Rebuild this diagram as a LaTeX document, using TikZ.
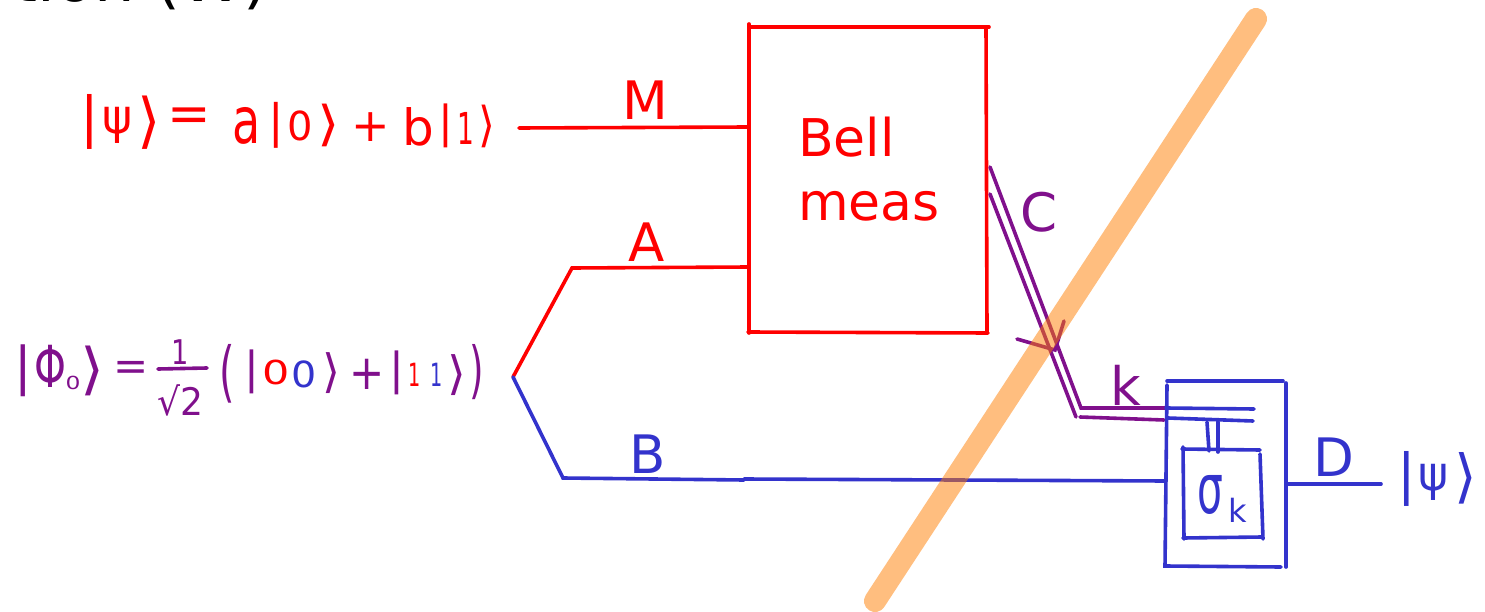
\documentclass[tikz,border=0pt]{standalone}
\usepackage{fontspec}
\setmainfont{DejaVu Sans}
\definecolor{rd}{RGB}{255,0,0}
\definecolor{bl}{RGB}{51,51,204}
\definecolor{pu}{RGB}{128,16,140}
\definecolor{org}{RGB}{255,125,0}
\newcommand\gl[4]{{\fontsize{#1}{#1}\selectfont\scalebox{#2}[#3]{#4}}}
\tikzset{
  wire/.style={line width=3.6pt,line cap=round},
  band/.style={line width=22pt,line cap=round,org,opacity=.5},
  lab/.style={inner sep=0pt,font=\fontsize{53}{53}\selectfont},
  hand/.style={inner sep=0pt}
}
\begin{document}
\begin{tikzpicture}[x=1pt,y=-1pt]
\useasboundingbox (0,0) rectangle (1485,612);
\clip (0,0) rectangle (1485,612);
% top cropped title
\node[inner sep=0pt,anchor=base west,text=black,font=\fontsize{64}{64}\selectfont] (title) at (12,2) {tion (W)};
% red formula
\node[hand,text=rd] (f1) at (90,122) {\gl{55}{1}{1}{|}};
\node[hand,text=rd] (f2) at (118,125) {\gl{48}{.95}{1}{ψ}};
\node[hand,text=rd] (f3) at (149,123) {\gl{60}{1}{1}{⟩}};
\node[hand,text=rd] (f4) at (189,120) {\gl{52}{1}{1}{=}};
\node[hand,text=rd] (f5) at (247,126) {\gl{46}{1}{1.4}{a}};
\node[hand,text=rd] (f6) at (276,125) {\gl{46}{1}{1}{|}};
\node[hand,text=rd] (f7) at (300,126) {\gl{40}{1}{1}{0}};
\node[hand,text=rd] (f8) at (329,125) {\gl{48}{1.2}{1}{⟩}};
\node[hand,text=rd] (f9) at (371,127) {\gl{46}{1}{1}{+}};
\node[hand,text=rd] (f10) at (418,127) {\gl{50}{1}{1}{b}};
\node[hand,text=rd] (f11) at (446,126) {\gl{44}{1}{1}{|}};
\node[hand,text=rd] (f12) at (466,128) {\gl{44}{.6}{1}{1}};
\node[hand,text=rd] (f13) at (487,126) {\gl{48}{.9}{1}{⟩}};
% purple formula
\node[hand,text=pu] (g1) at (23,371) {\gl{52}{1}{1}{|}};
\node[hand,text=pu] (g2) at (50,366) {\gl{58}{.7}{1}{Φ}};
\node[hand,text=pu] (g3) at (73,383) {\gl{18}{1.3}{1}{0}};
\node[hand,text=pu] (g4) at (93,371) {\gl{56}{1.1}{1}{⟩}};
\node[hand,text=pu] (g5) at (131,371) {\gl{42}{1}{1}{=}};
\node[hand,text=pu] (g6) at (180,352) {\gl{34}{.8}{1}{1}};
\coordinate (fb1) at (158,369); \coordinate (fb2) at (207,368);
\draw[wire,pu] (fb1) -- (fb2);
\node[hand,text=pu] (g7) at (180,400) {\gl{38}{.95}{1}{√2}};
\node[hand,text=pu] (g8) at (227,374) {\gl{66}{.6}{1}{(}};
\node[hand,text=pu] (g9) at (252,372) {\gl{44}{1}{1}{|}};
\node[hand,text=rd] (g10) at (276,372) {\gl{33}{1.3}{1}{0}};
\node[hand,text=bl] (g11) at (304,374) {\gl{36}{1.1}{1}{0}};
\node[hand,text=pu] (g12) at (331,373) {\gl{46}{1}{1}{⟩}};
\node[hand,text=pu] (g13) at (367,374) {\gl{42}{1}{1.15}{+}};
\node[hand,text=pu] (g14) at (397,373) {\gl{44}{1}{1}{|}};
\node[hand,text=rd] (g15) at (415,375) {\gl{32}{.6}{1}{1}};
\node[hand,text=bl] (g16) at (437,375) {\gl{32}{.6}{1}{1}};
\node[hand,text=pu] (g17) at (457,375) {\gl{46}{1.05}{1}{⟩}};
\node[hand,text=pu] (g18) at (477,372) {\gl{62}{.6}{1}{)}};
% Bell box
\coordinate (r1) at (749,24); \coordinate (r1b) at (749,333);
\coordinate (r2a) at (749,27); \coordinate (r2b) at (989,27);
\coordinate (r3a) at (986,27); \coordinate (r3b) at (987,333);
\coordinate (r4a) at (748,332); \coordinate (r4b) at (988,333);
\draw[wire,rd] (r1) -- (r1b);
\draw[wire,rd] (r2a) -- (r2b);
\draw[wire,rd] (r3a) -- (r3b);
\draw[wire,rd] (r4a) -- (r4b);
\node[lab,text=rd,anchor=base west] (bell) at (798,157) {\gl{52}{1}{1}{Bell}};
\node[lab,text=rd,anchor=base west] (meas) at (798,221) {\gl{52}{1}{1}{meas}};
% input wires
\coordinate (mS) at (519,128); \coordinate (mE) at (749,127);
\draw[wire,rd] (mS) -- (mE);
\node[lab,text=rd] (M) at (645,100) {M};
\coordinate (v) at (513,377); \coordinate (aK) at (572,268); \coordinate (aE) at (749,267);
\draw[wire,rd] (v) -- (aK) -- (aE);
\node[lab,text=rd] (A) at (647,242) {A};
\coordinate (bK) at (563,478); \coordinate (bM) at (744,480); \coordinate (bE) at (1166,481);
\draw[wire,bl] (v) -- (bK) -- (bM);
\coordinate (bN) at (744,479);
\draw[wire,bl] (bN) -- (bE);
\node[lab,text=bl] (B) at (648,454) {B};
% classical wires
\coordinate (c1) at (990,167); \coordinate (c2) at (1081,408); \coordinate (c3) at (1254,409);
\coordinate (d1) at (990,194); \coordinate (d2) at (1076,417); \coordinate (d2b) at (1080,417); \coordinate (d3) at (1253,421);
\coordinate (cm) at (1166,408); \coordinate (dm) at (1164,420); \coordinate (dn) at (1168,418);
\draw[wire,pu] (c1) -- (c2) -- (cm);
\draw[wire,pu] (d1) -- (d2);
\draw[wire,pu] (d2b) -- (dm);
\draw[wire,bl] (cm) -- (c3);
\draw[wire,bl] (dn) -- (d3);
\node[lab,text=pu] (C) at (1039,212) {C};
\node[lab,text=pu] (k) at (1126,385) {k};
% cut mark
\coordinate (x1) at (1017,339); \coordinate (x0) at (1055,350); \coordinate (x2) at (1064,321);
\draw[wire,pu] (x1) -- (x0) -- (x2);
% correction box
\coordinate (o1) at (1167,381); \coordinate (o2) at (1283,381);
\coordinate (o1b) at (1167,385); \coordinate (o6) at (1165,566); \coordinate (o5) at (1281,567);
\coordinate (o3) at (1286,383); \coordinate (o4) at (1286,567);
\draw[wire,bl] (o1) -- (o2);
\draw[wire,bl] (o1b) -- (o6) -- (o5);
\draw[wire,bl] (o3) -- (o4);
\coordinate (i1) at (1182,449); \coordinate (i2) at (1260,450);
\coordinate (i3) at (1183,447); \coordinate (i4) at (1184,539);
\coordinate (i5) at (1183,538); \coordinate (i6) at (1262,537);
\coordinate (i7) at (1260,454); \coordinate (i8) at (1263,539);
\draw[wire,bl] (i1) -- (i2);
\draw[wire,bl] (i3) -- (i4);
\draw[wire,bl] (i5) -- (i6);
\draw[wire,bl] (i7) -- (i8);
\coordinate (t1) at (1207,422); \coordinate (t2) at (1209,451);
\coordinate (t3) at (1218,422); \coordinate (t4) at (1218,452);
\draw[wire,bl] (t1) -- (t2);
\draw[wire,bl] (t3) -- (t4);
\node[hand,text=bl] (s) at (1210,495) {\gl{48}{.85}{1.45}{σ}};
\node[hand,text=bl] (sk) at (1238,510) {\gl{32}{1}{1}{k}};
% output
\coordinate (oS) at (1288,484); \coordinate (oE) at (1381,484);
\draw[wire,bl] (oS) -- (oE);
\node[lab,text=bl] (D) at (1334,457) {D};
\node[hand,text=bl] (h1) at (1407,479) {\gl{55}{1}{1}{|}};
\node[hand,text=bl] (h2) at (1434,482) {\gl{48}{.95}{1}{ψ}};
\node[hand,text=bl] (h3) at (1466,478) {\gl{58}{1}{1}{⟩}};
% band over everything
\coordinate (b1) at (875,601); \coordinate (b2) at (1256,19);
\draw[band] (b1) -- (b2);
\end{tikzpicture}
\end{document}
